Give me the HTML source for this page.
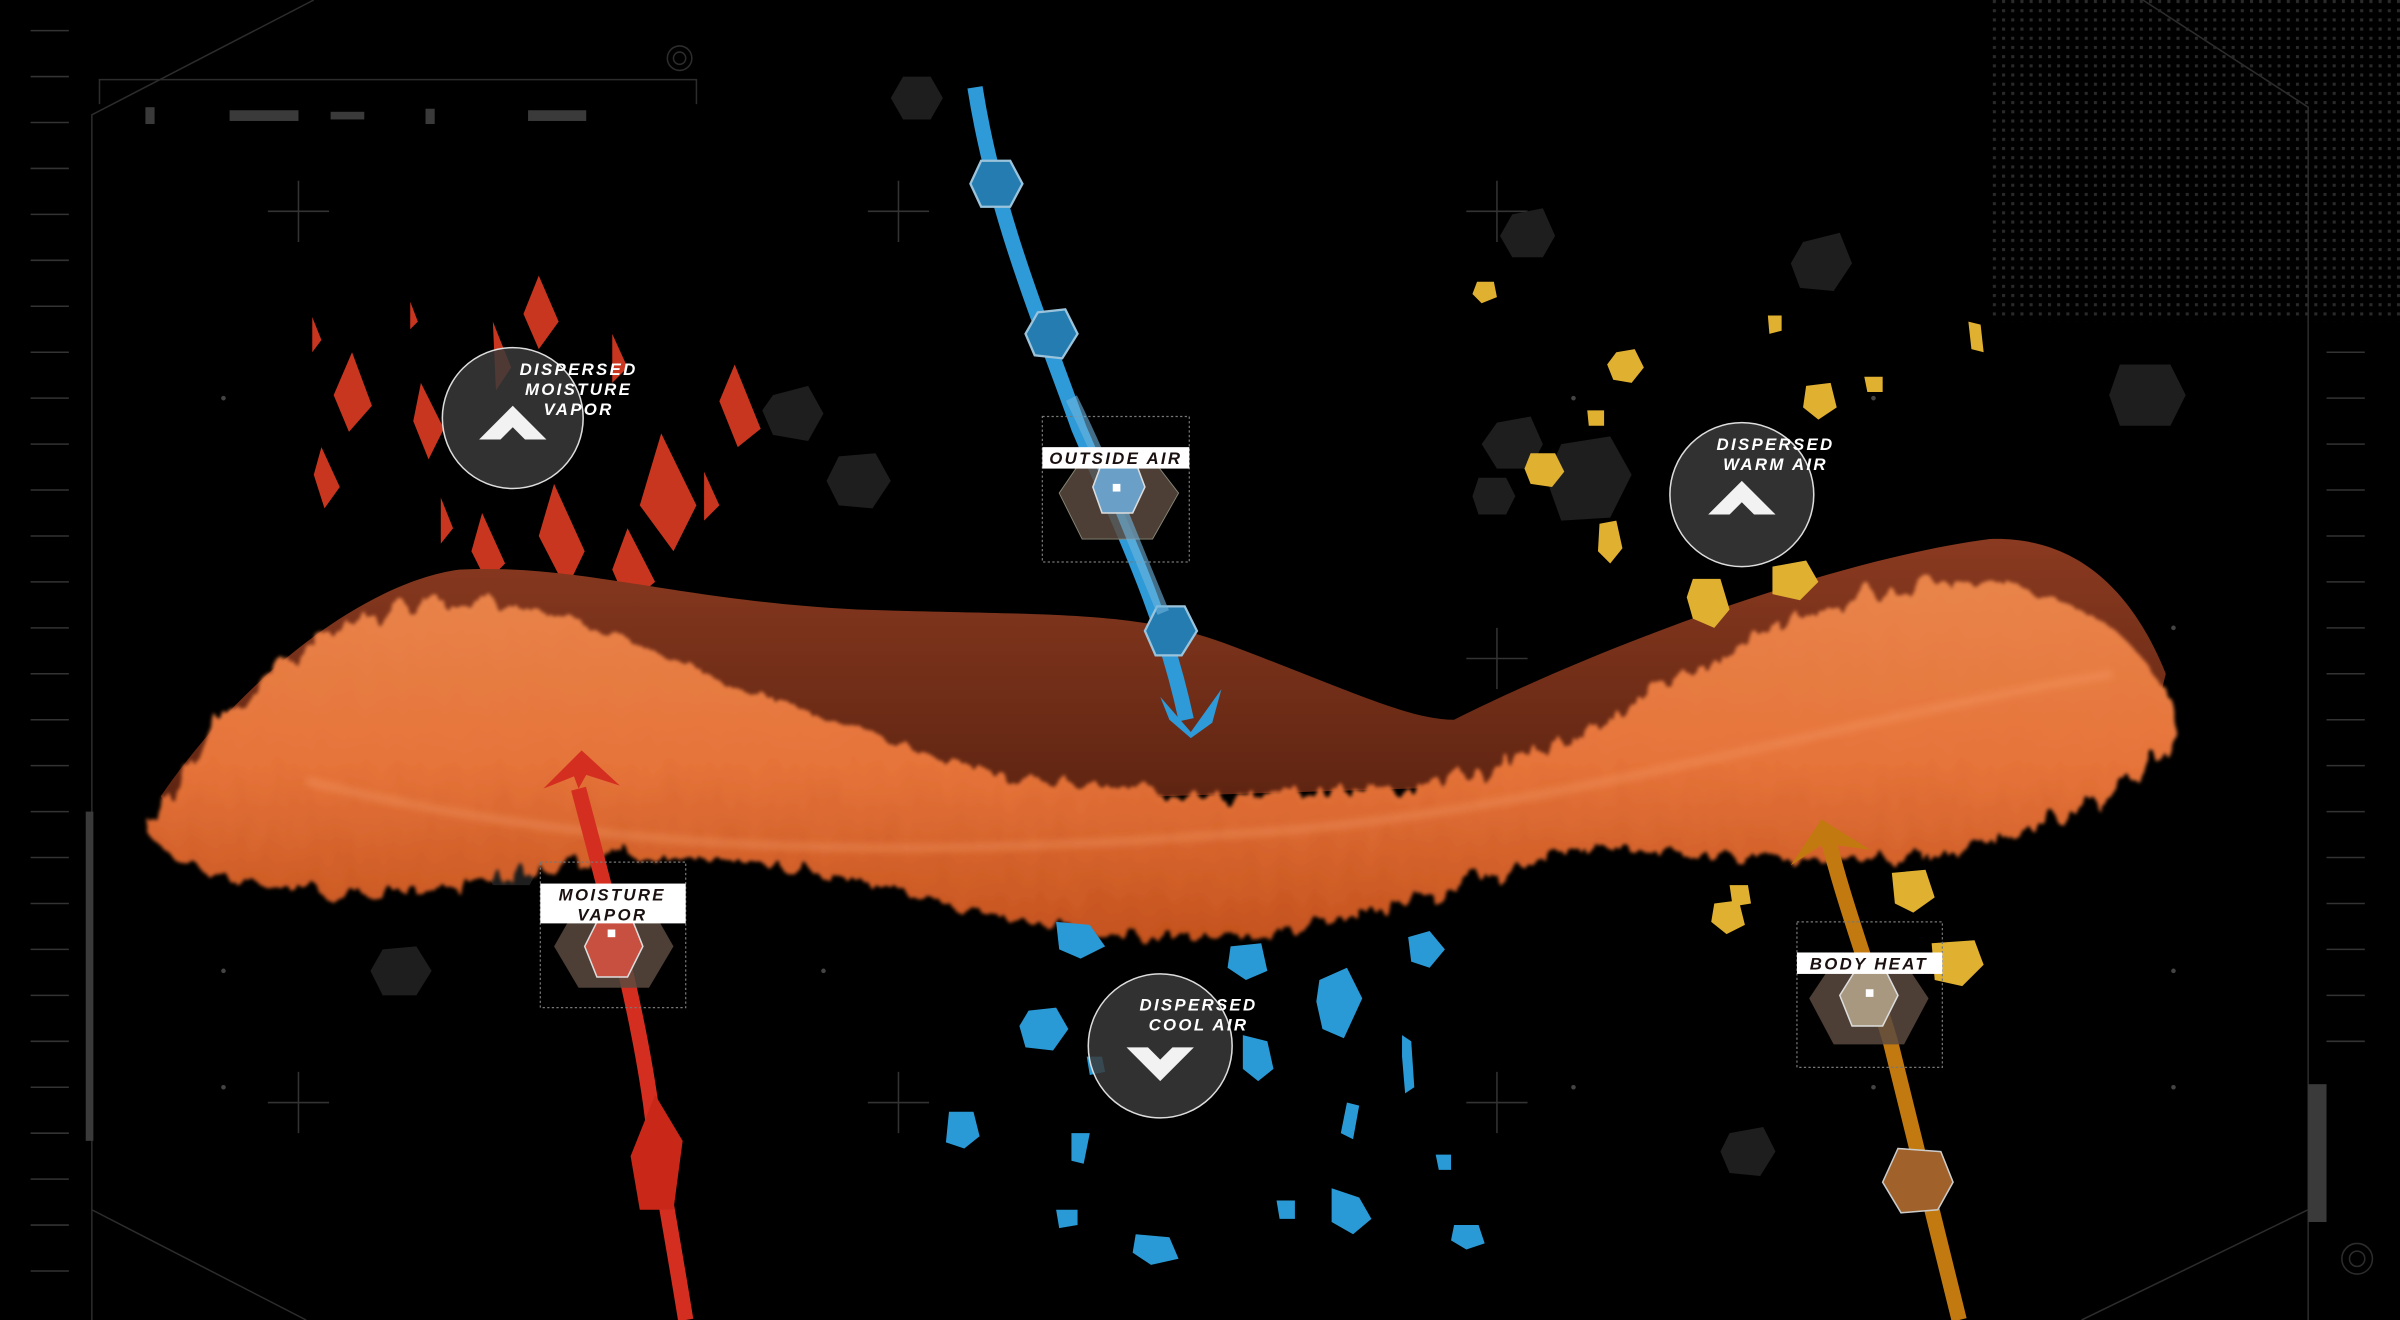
<!DOCTYPE html>
<html><head><meta charset="utf-8"><style>
html,body{margin:0;padding:0;background:#000;width:2400px;height:1320px;overflow:hidden}
svg{display:block}
.lbl{font-family:"Liberation Sans",sans-serif;font-weight:bold;font-style:italic;letter-spacing:1.5px}
</style></head><body>
<svg width="2400" height="1320" viewBox="0 0 1568 862" preserveAspectRatio="none" xmlns="http://www.w3.org/2000/svg">
<defs>
<filter id="fuzz" x="-10%" y="-20%" width="120%" height="140%">
<feTurbulence type="fractalNoise" baseFrequency="0.09 0.03" numOctaves="3" seed="3" result="n"/>
<feDisplacementMap in="SourceGraphic" in2="n" scale="22" result="d"/>
<feGaussianBlur in="d" stdDeviation="1.2"/>
</filter>
<filter id="blur2"><feGaussianBlur stdDeviation="2"/></filter>
<linearGradient id="fur" x1="0" y1="0" x2="0" y2="1">
<stop offset="0" stop-color="#e8844a"/><stop offset="0.5" stop-color="#e6743a"/><stop offset="1" stop-color="#c4521e"/>
</linearGradient>
<linearGradient id="sheet" x1="0" y1="0" x2="0" y2="1">
<stop offset="0" stop-color="#8a3a20"/><stop offset="1" stop-color="#5a2210"/>
</linearGradient>
<pattern id="dots" width="6" height="6" patternUnits="userSpaceOnUse"><rect width="2" height="2" fill="#2a2a2a"/></pattern>
</defs>
<rect width="1568" height="862" fill="#000"/>
<rect x="1300" y="0" width="268" height="210" fill="url(#dots)"/>
<g stroke="#2c2c2c" stroke-width="1" fill="none">
<path d="M60,862 V75 L205,0"/><path d="M65,68 V52 H455 V68"/>
<path d="M1508,862 V70 L1400,0"/>
<path d="M60,790 L200,862"/><path d="M1508,790 L1360,862"/>
<circle cx="444" cy="38" r="8"/><circle cx="444" cy="38" r="4"/>
<circle cx="1540" cy="822" r="10"/><circle cx="1540" cy="822" r="5"/>
</g>
<g fill="#3a3a3a">
<rect x="95" y="70" width="6" height="11"/><rect x="150" y="72" width="45" height="7"/><rect x="216" y="73" width="22" height="5"/>
<rect x="278" y="71" width="6" height="10"/><rect x="345" y="72" width="38" height="7"/><rect x="1508" y="708" width="12" height="90"/>
<rect x="56" y="530" width="5" height="215"/>
</g>
<g stroke="#333" stroke-width="1">
<path d="M20,20H45M20,50H45M20,80H45M20,110H45M20,140H45M20,170H45M20,200H45M20,230H45M20,260H45M20,290H45M20,320H45M20,350H45M20,380H45M20,410H45M20,440H45M20,470H45M20,500H45M20,530H45M20,560H45M20,590H45M20,620H45M20,650H45M20,680H45M20,710H45M20,740H45M20,770H45M20,800H45M20,830H45"/>
<path d="M1520,230H1545M1520,260H1545M1520,290H1545M1520,320H1545M1520,350H1545M1520,380H1545M1520,410H1545M1520,440H1545M1520,470H1545M1520,500H1545M1520,530H1545M1520,560H1545M1520,590H1545M1520,620H1545M1520,650H1545M1520,680H1545"/>
<path d="M195,118V158M175,138H215M587,118V158M567,138H607M978,118V158M958,138H998M195,700V740M175,720H215M587,700V740M567,720H607M978,700V740M958,720H998M587,410V450M567,430H607M978,410V450M958,430H998"/>
</g>
<g fill="#444">
<circle cx="146" cy="260" r="1.5"/><circle cx="1028" cy="260" r="1.5"/><circle cx="1224" cy="260" r="1.5"/><circle cx="1420" cy="260" r="1.5"/>
<circle cx="146" cy="634" r="1.5"/><circle cx="146" cy="710" r="1.5"/><circle cx="1420" cy="410" r="1.5"/><circle cx="1420" cy="634" r="1.5"/>
<circle cx="1028" cy="710" r="1.5"/><circle cx="1224" cy="710" r="1.5"/><circle cx="1420" cy="710" r="1.5"/><circle cx="538" cy="634" r="1.5"/>
</g>
<g fill="#1e1e1e">
<polygon points="590,50 608,50 616,64 608,78 590,78 582,64"/>
<polygon points="505,258 528,252 538,270 528,288 505,284 498,268"/>
<polygon points="548,298 572,296 582,314 570,332 548,330 540,314"/>
<polygon points="978,276 1000,272 1008,290 1000,306 978,306 968,290"/>
<polygon points="1020,290 1052,285 1066,310 1052,338 1020,340 1010,312"/>
<polygon points="1385,238 1418,238 1428,258 1418,278 1385,278 1378,258"/>
<polygon points="1178,158 1202,152 1210,172 1198,190 1176,188 1170,172"/>
<polygon points="988,140 1008,136 1016,154 1008,168 988,168 980,154"/>
<polygon points="320,540 345,538 358,556 346,578 322,578 312,558"/>
<polygon points="250,620 272,618 282,634 272,650 250,650 242,634"/>
<polygon points="1130,740 1152,736 1160,752 1150,768 1130,766 1124,752"/>
<polygon points="966,312 984,312 990,324 984,336 966,336 962,324"/>
</g>
<g fill="#c9361f">
<polygon points="352,180 365,210 352,228 342,205"/>
<polygon points="230,230 243,265 228,282 218,258"/>
<polygon points="275,250 290,280 280,300 270,275"/>
<polygon points="210,292 222,318 212,332 205,310"/>
<polygon points="204,207 210,222 204,230"/>
<polygon points="268,197 273,210 268,215"/>
<polygon points="480,238 497,280 482,292 470,262"/>
<polygon points="432,283 455,330 440,360 418,330"/>
<polygon points="460,308 470,330 460,340"/>
<polygon points="362,316 382,360 370,385 352,350"/>
<polygon points="315,335 330,368 318,380 308,360"/>
<polygon points="288,325 296,345 288,355"/>
<polygon points="410,345 428,380 410,395 400,372"/>
<polygon points="400,218 410,240 400,250"/>
<polygon points="322,210 334,240 324,255"/>
</g>
<path d="M105,520 C160,440 240,380 300,372 C380,368 440,392 560,398 C680,402 740,398 800,420 C880,450 920,470 950,470 C1050,420 1200,365 1300,352 C1360,350 1395,390 1415,440 L1400,500 L120,540 Z" fill="url(#sheet)"/>
<g filter="url(#fuzz)">
<path d="M98,545 C130,470 180,420 260,398 C330,385 380,405 440,430 C540,470 620,505 720,515 C820,525 900,520 980,500 C1060,470 1130,420 1200,395 C1270,372 1330,378 1380,410 C1415,440 1425,470 1420,490 C1390,515 1340,545 1260,560 C1180,565 1110,555 1040,555 C960,570 900,600 820,612 C740,618 680,605 620,590 C540,570 470,555 400,560 C330,570 270,590 200,582 C150,576 110,565 98,545 Z" fill="url(#fur)"/>
</g>
<path d="M200,510 C400,560 600,560 800,545 C1000,535 1200,470 1380,440" stroke="#f7a070" stroke-width="6" fill="none" opacity="0.3" filter="url(#blur2)"/>
<g fill="#e0b030">
<polygon points="1056,230 1068,228 1074,240 1066,250 1054,248 1050,238"/>
<polygon points="1000,296 1016,296 1022,308 1014,318 1000,316 996,306"/>
<polygon points="1045,342 1056,340 1060,358 1052,368 1044,360"/>
<polygon points="1106,378 1124,378 1130,398 1120,410 1106,404 1102,390"/>
<polygon points="1158,370 1180,366 1188,380 1176,392 1158,388"/>
<polygon points="1180,252 1196,250 1200,266 1188,274 1178,266"/>
<polygon points="965,184 976,184 978,194 968,198 962,192"/>
<polygon points="1155,206 1164,206 1164,216 1156,218"/>
<polygon points="1218,246 1230,246 1230,256 1220,256"/>
<polygon points="1037,268 1048,268 1048,278 1038,278"/>
<polygon points="1236,570 1258,568 1264,586 1250,596 1238,590"/>
<polygon points="1120,590 1136,588 1140,604 1128,610 1118,602"/>
<polygon points="1130,578 1142,578 1144,590 1132,592"/>
<polygon points="1262,616 1290,614 1296,630 1282,644 1264,640"/>
<polygon points="1286,210 1294,212 1296,230 1288,228"/>
</g>
<g fill="#2a9ad6">
<polygon points="672,660 690,658 698,672 688,686 670,684 666,670"/>
<polygon points="862,640 880,632 890,652 878,678 864,672 860,654"/>
<polygon points="812,676 828,680 832,698 822,706 812,698"/>
<polygon points="620,726 636,726 640,742 630,750 618,746"/>
<polygon points="690,602 712,604 722,618 706,626 692,620"/>
<polygon points="804,618 824,616 828,634 814,640 802,632"/>
<polygon points="920,612 934,608 944,620 934,632 922,628"/>
<polygon points="870,776 888,782 896,796 884,806 870,798"/>
<polygon points="742,806 764,808 770,822 752,826 740,818"/>
<polygon points="950,800 966,800 970,812 958,816 948,810"/>
<polygon points="916,676 922,680 924,710 918,714 916,690"/>
<polygon points="880,720 888,722 884,744 876,740"/>
<polygon points="700,740 712,740 708,760 700,758"/>
<polygon points="690,790 704,790 704,800 692,802"/>
<polygon points="834,784 846,784 846,796 836,796"/>
<polygon points="938,754 948,754 948,764 940,764"/>
<polygon points="710,690 720,690 722,700 712,702"/>
</g>
<path d="M637,57 C650,140 680,210 705,280 C735,350 760,400 775,470" stroke="#2e9ad8" stroke-width="10" fill="none"/>
<polygon points="758,455 778,478 798,450 792,472 778,482 764,470" fill="#2e9ad8"/>
<g fill="#247cb0" stroke="#9bc4dc" stroke-width="1.5">
<polygon points="641,105 660,105 668,120 660,135 641,135 634,120"/>
<polygon points="678,204 696,202 704,218 694,234 676,232 670,218"/>
<polygon points="756,396 774,396 782,412 772,428 755,428 748,412"/>
</g>
<path d="M448,862 C438,800 430,760 425,720 C415,650 395,580 378,515" stroke="#d42e20" stroke-width="10" fill="none"/>
<polygon points="355,515 380,490 405,513 383,506 378,515 375,507" fill="#d42e20"/>
<polygon points="428,715 446,745 440,790 418,790 412,755" fill="#c92818"/>
<path d="M1280,862 C1265,800 1250,740 1235,680 C1220,630 1205,590 1195,550" stroke="#c27a10" stroke-width="10" fill="none"/>
<polygon points="1170,565 1190,535 1222,555 1200,552 1196,565 1190,552" fill="#c27a10"/>
<polygon points="1240,750 1268,752 1276,772 1266,790 1242,792 1230,772" fill="#a0622a" stroke="#ccc" stroke-width="1"/>
<g>
<rect x="681" y="272" width="96" height="95" fill="none" stroke="#777" stroke-width="0.8" stroke-dasharray="1.5 1.5"/>
<polygon points="707,300 753,300 770,322 753,352 707,352 692,322" fill="#5a4a40" fill-opacity="0.85" stroke="#887" stroke-width="0.6"/>
<path d="M700,260 C720,300 735,340 760,400" stroke="#6fb5e0" stroke-width="8" fill="none" opacity="0.6"/>
<polygon points="720,302 742,302 748,318 740,335 720,335 714,318" fill="#6aa0c8" stroke="#ddd" stroke-width="1"/>
<rect x="727" y="316" width="5" height="5" fill="#fff"/>
<rect x="681" y="292" width="96" height="14" fill="#fff"/>
<text x="729" y="303" text-anchor="middle" class="lbl" font-size="11" fill="#1a1010">OUTSIDE AIR</text>
</g>
<g>
<rect x="353" y="563" width="95" height="95" fill="none" stroke="#777" stroke-width="0.8" stroke-dasharray="1.5 1.5"/>
<polygon points="378,590 424,590 440,618 424,645 378,645 362,618" fill="#5a4a40" fill-opacity="0.85"/>
<polygon points="392,598 412,598 420,618 410,638 390,638 382,618" fill="#c85040" stroke="#ddd" stroke-width="1"/>
<rect x="397" y="607" width="5" height="5" fill="#fff"/>
<rect x="353" y="577" width="95" height="26" fill="#fff"/>
<text x="400" y="588" text-anchor="middle" class="lbl" font-size="11" fill="#1a1010">MOISTURE</text>
<text x="400" y="601" text-anchor="middle" class="lbl" font-size="11" fill="#1a1010">VAPOR</text>
</g>
<g>
<rect x="1174" y="602" width="95" height="95" fill="none" stroke="#777" stroke-width="0.8" stroke-dasharray="1.5 1.5"/>
<polygon points="1198,628 1244,628 1260,652 1244,682 1198,682 1182,652" fill="#5a4a40" fill-opacity="0.85"/>
<polygon points="1212,634 1232,634 1240,650 1230,670 1210,670 1202,650" fill="#a89880" stroke="#ddd" stroke-width="1"/>
<rect x="1219" y="646" width="5" height="5" fill="#fff"/>
<rect x="1174" y="622" width="95" height="14" fill="#fff"/>
<text x="1221" y="633" text-anchor="middle" class="lbl" font-size="11" fill="#1a1010">BODY HEAT</text>
</g>
<g>
<circle cx="335" cy="273" r="46" fill="#3a3a3a" fill-opacity="0.85" stroke="#ddd" stroke-width="1"/>
<polygon points="313,287 335,265 357,287 343,287 335,279 327,287" fill="#f2f2f2"/>
<text x="378" y="245" text-anchor="middle" class="lbl" font-size="11" fill="#fff">DISPERSED</text>
<text x="378" y="258" text-anchor="middle" class="lbl" font-size="11" fill="#fff">MOISTURE</text>
<text x="378" y="271" text-anchor="middle" class="lbl" font-size="11" fill="#fff">VAPOR</text>
</g>
<g>
<circle cx="1138" cy="323" r="47" fill="#3a3a3a" fill-opacity="0.85" stroke="#ddd" stroke-width="1"/>
<polygon points="1116,336 1138,314 1160,336 1146,336 1138,328 1130,336" fill="#f2f2f2"/>
<text x="1160" y="294" text-anchor="middle" class="lbl" font-size="11" fill="#fff">DISPERSED</text>
<text x="1160" y="307" text-anchor="middle" class="lbl" font-size="11" fill="#fff">WARM AIR</text>
</g>
<g>
<circle cx="758" cy="683" r="47" fill="#3a3a3a" fill-opacity="0.85" stroke="#ddd" stroke-width="1"/>
<polygon points="736,684 758,706 780,684 766,684 758,692 750,684" fill="#f2f2f2"/>
<text x="783" y="660" text-anchor="middle" class="lbl" font-size="11" fill="#fff">DISPERSED</text>
<text x="783" y="673" text-anchor="middle" class="lbl" font-size="11" fill="#fff">COOL AIR</text>
</g>
</svg>
</body></html>
